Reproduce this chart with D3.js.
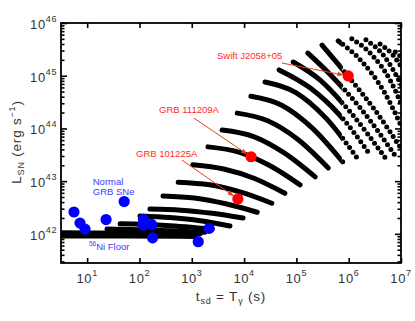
<!DOCTYPE html>
<html lang="en">
<meta charset="utf-8">
<title>Magnetar SN luminosity vs spin-down time</title>
<style>
body { margin: 0; background: #fff; }
svg { display: block; font-family: "Liberation Sans", Arial, sans-serif; }
.tlabel { font-size: 13px; fill: #333; letter-spacing: 0.6px; }
.alabel { font-size: 13.5px; fill: #333; letter-spacing: 0.8px; }
.frame { fill: none; stroke: #000; stroke-width: 1.8; }
.axis path.domain { display: none; }
.axis line { stroke: #000; stroke-width: 1.6; }
.track { fill: none; stroke: #000; stroke-width: 5; stroke-linecap: round; stroke-linejoin: round; }
.note-red { fill: #ff2a2a; font-size: 9.5px; }
.note-blue { fill: #3b3bff; font-size: 9.5px; }
.arrow { stroke: #e8401c; stroke-width: 1; fill: none; }
</style>
<body>
<script src="https://d3js.org/d3.v7.min.js"></script>
<script>
// magnetar tracks: log10 t_sd (s) and log10 L_SN (erg/s)
var trackLogT = [
  [0.38, 1.72, 3.06],
  [0.38, 1.78, 3.16],
  [1.38, 2.32, 3.25],
  [1.63, 2.51, 3.39],
  [2.01, 2.58, 3.16, 3.73],
  [2.20, 2.79, 3.39, 3.98],
  [2.45, 3.05, 3.65, 4.25],
  [2.74, 3.34, 3.94, 4.53],
  [3.02, 3.61, 4.20, 4.78],
  [3.31, 3.90, 4.48, 5.07],
  [3.58, 4.17, 4.76, 5.36],
  [3.87, 4.44, 5.03, 5.61],
  [4.13, 4.72, 5.30, 5.89],
  [4.40, 4.99, 5.57, 6.16],
  [4.67, 5.26, 5.83, 6.41],
  [4.94, 5.45, 6.03, 6.70],
  [5.22, 5.64, 6.22, 6.92],
  [5.49, 5.99, 6.50, 7.02],
  [5.80, 6.26, 6.68, 7.02],
  [6.06, 6.45, 6.79, 7.02],
  [6.33, 6.68, 7.02],
  [6.60, 6.83, 7.02],
  [6.89, 7.02]
];
var trackLogL = [
  [41.96, 41.96, 41.95],
  [42.02, 42.01, 42.00],
  [42.09, 42.07, 42.03],
  [42.19, 42.16, 42.09],
  [42.34, 42.31, 42.25, 42.15],
  [42.47, 42.45, 42.39, 42.30],
  [42.72, 42.68, 42.57, 42.41],
  [42.98, 42.93, 42.79, 42.58],
  [43.31, 43.23, 43.05, 42.77],
  [43.65, 43.55, 43.30, 42.93],
  [43.97, 43.85, 43.54, 43.08],
  [44.29, 44.15, 43.79, 43.25],
  [44.61, 44.44, 44.01, 43.36],
  [44.88, 44.68, 44.19, 43.44],
  [45.11, 44.77, 44.25, 43.50],
  [45.26, 44.92, 44.31, 43.44],
  [45.43, 45.03, 44.39, 43.44],
  [45.58, 44.99, 44.35, 43.59],
  [45.66, 45.26, 44.69, 44.01],
  [45.70, 45.39, 44.92, 44.43],
  [45.68, 45.37, 44.80],
  [45.60, 45.41, 45.15],
  [45.45, 45.34]
];

// normal GRB supernovae
var snT = [5.6, 7.3, 9.1, 23, 51, 119, 117, 170, 178, 1330, 2140];
var snL = [2.6e42, 1.6e42, 1.23e42, 1.87e42, 4.1e42, 1.88e42, 1.47e42, 1.51e42, 8.4e41, 7.1e41, 1.27e42];

// ultra-long GRBs
var grbNames = ["Swift J2058+05", "GRB 111209A", "GRB 101225A"];
var grbT = [9.8e5, 1.36e4, 7.6e3];
var grbL = [9.9e44, 2.9e43, 4.6e42];
var grbLabelT = [3040, 237, 86];
var grbLabelL = [2.07e45, 1.96e44, 2.87e43];
var grbArrowT = [5.3e4, 1100, 652];
var grbArrowL = [1.74e45, 1.57e44, 2.5e43];

var xTicks = [1e1, 1e2, 1e3, 1e4, 1e5, 1e6, 1e7];
var yTicks = [1e42, 1e43, 1e44, 1e45, 1e46];

var W = 415, H = 321;
var x = d3.scaleLog().domain([Math.pow(10, 0.5), 1e7]).range([61, 401]);
var y = d3.scaleLog().domain([2.8e41, 1e46]).range([263, 23]);

var yMinor = [];
[41, 42, 43, 44, 45].forEach(function(e) {
  for (var k = 2; k <= 9; k++) {
    var v = k * Math.pow(10, e);
    if (v > y.domain()[0] && v < 1e46) yMinor.push(v);
  }
});

var svg = d3.select("body").append("svg")
  .attr("width", W)
  .attr("height", H);

var defs = svg.append("defs");
// beyond this spin-down time the model points no longer merge into a line
var tSplit = 7.4e5;
defs.append("clipPath").attr("id", "clipSolid")
  .append("rect")
  .attr("x", 61).attr("y", 23)
  .attr("width", x(tSplit) - 61).attr("height", 240);
defs.append("clipPath").attr("id", "clipDots")
  .append("rect")
  .attr("x", x(tSplit)).attr("y", 23)
  .attr("width", 401 - x(tSplit)).attr("height", 240);

var marker = defs.append("marker")
  .attr("id", "head")
  .attr("viewBox", "0 0 10 10")
  .attr("refX", 9).attr("refY", 5)
  .attr("markerWidth", 6).attr("markerHeight", 6)
  .attr("markerUnits", "userSpaceOnUse")
  .attr("orient", "auto");
marker.append("path").attr("d", "M0,1L10,5L0,9Z").attr("fill", "#e8401c");

// tracks
var solid = svg.append("g").attr("clip-path", "url(#clipSolid)");
var dotted = svg.append("g").attr("clip-path", "url(#clipDots)");
var line = d3.line()
  .x(function(d) { return x(d[0]); })
  .y(function(d) { return y(d[1]); })
  .curve(d3.curveMonotoneX);

trackLogT.forEach(function(ts, i) {
  var pts = ts.map(function(t, j) { return [Math.pow(10, t), Math.pow(10, trackLogL[i][j])]; });
  solid.append("path")
    .attr("class", "track")
    .attr("d", line(pts));
  dotted.append("path")
    .attr("class", "track")
    .attr("d", line(pts))
    .attr("stroke-dasharray", "0 5.8");
});

// SNe
var pts = svg.append("g");
pts.selectAll("circle.sn")
  .data(snT)
  .enter().append("circle")
  .attr("class", "sn")
  .attr("cx", function(d) { return x(d); })
  .attr("cy", function(d, i) { return y(snL[i]); })
  .attr("r", 5.6)
  .attr("fill", "#0000ff");

// ultra-long GRBs
grbNames.forEach(function(name, i) {
  var x0 = x(grbArrowT[i]), y0 = y(grbArrowL[i]);
  var x1 = x(grbT[i]), y1 = y(grbL[i]);
  var len = Math.hypot(x1 - x0, y1 - y0);
  var k = (len - 5.5) / len;
  svg.append("line")
    .attr("class", "arrow")
    .attr("x1", x0).attr("y1", y0)
    .attr("x2", x0 + (x1 - x0) * k).attr("y2", y0 + (y1 - y0) * k)
    .attr("marker-end", "url(#head)");
  svg.append("circle")
    .attr("cx", x1).attr("cy", y1)
    .attr("r", 5.6)
    .attr("fill", "#ff0000");
  svg.append("text")
    .attr("class", "note-red")
    .attr("x", x(grbLabelT[i]))
    .attr("y", y(grbLabelL[i]))
    .text(name);
});

// notes
svg.append("text").attr("class", "note-blue")
  .attr("x", x(12.8)).attr("y", y(8.5e42)).text("Normal");
svg.append("text").attr("class", "note-blue")
  .attr("x", x(12.8)).attr("y", y(5.5e42)).text("GRB SNe");
var ni = svg.append("text").attr("class", "note-blue")
  .attr("x", x(10.8)).attr("y", y(5.0e41));
ni.append("tspan").attr("font-size", "6.5px").attr("dy", -4).text("56");
ni.append("tspan").attr("dy", 4).text("Ni Floor");

// axes: ticks inward on all sides
svg.append("g").attr("class", "axis")
  .attr("transform", "translate(0,263)")
  .call(d3.axisBottom(x).tickValues(xTicks).tickSize(-5).tickFormat(""));
svg.append("g").attr("class", "axis")
  .attr("transform", "translate(0,23)")
  .call(d3.axisTop(x).tickValues(xTicks).tickSize(-5).tickFormat(""));
svg.append("g").attr("class", "axis")
  .attr("transform", "translate(61,0)")
  .call(d3.axisLeft(y).tickValues(yTicks).tickSize(-6).tickFormat(""));
svg.append("g").attr("class", "axis")
  .attr("transform", "translate(61,0)")
  .call(d3.axisLeft(y).tickValues(yMinor).tickSize(-3.5).tickFormat(""));
svg.append("g").attr("class", "axis")
  .attr("transform", "translate(401,0)")
  .call(d3.axisRight(y).tickValues(yTicks).tickSize(-6).tickFormat(""));
svg.append("g").attr("class", "axis")
  .attr("transform", "translate(401,0)")
  .call(d3.axisRight(y).tickValues(yMinor).tickSize(-3.5).tickFormat(""));

svg.append("rect").attr("class", "frame")
  .attr("x", 61).attr("y", 23).attr("width", 340).attr("height", 240);

// tick labels
xTicks.forEach(function(v) {
  var t = svg.append("text").attr("class", "tlabel")
    .attr("x", x(v)).attr("y", 283)
    .attr("text-anchor", "middle");
  t.append("tspan").text("10");
  t.append("tspan").attr("dy", -7).attr("font-size", "9px").text(Math.round(Math.log10(v)));
});
yTicks.forEach(function(v) {
  var t = svg.append("text").attr("class", "tlabel")
    .attr("x", 57).attr("y", y(v) + 6)
    .attr("text-anchor", "end");
  t.append("tspan").text("10");
  t.append("tspan").attr("dy", -7).attr("font-size", "9px").text(Math.round(Math.log10(v)));
});

// axis titles
var xt = svg.append("text").attr("class", "alabel")
  .attr("x", 231).attr("y", 301).attr("text-anchor", "middle");
xt.append("tspan").text("t");
xt.append("tspan").attr("font-size", "9px").attr("dy", 3).text("sd");
xt.append("tspan").attr("dy", -3).text(" = T");
xt.append("tspan").attr("font-size", "9px").attr("dy", 3).text("γ");
xt.append("tspan").attr("dy", -3).text(" (s)");

var yt = svg.append("text").attr("class", "alabel")
  .attr("transform", "translate(21,142) rotate(-90)")
  .attr("text-anchor", "middle");
yt.append("tspan").text("L");
yt.append("tspan").attr("font-size", "9px").attr("dy", 3).text("SN");
yt.append("tspan").attr("dy", -3).text(" (erg s");
yt.append("tspan").attr("font-size", "9px").attr("dy", -6).text("−1");
yt.append("tspan").attr("dy", 6).text(")");
</script>
</body>
</html>
